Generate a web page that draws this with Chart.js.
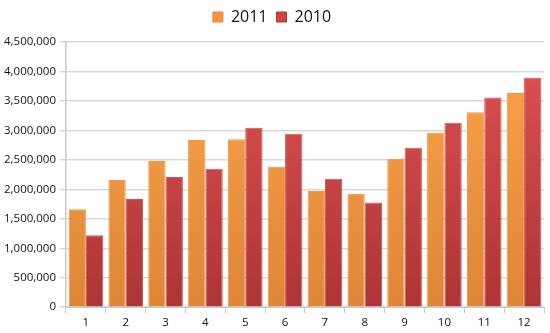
<!DOCTYPE html>
<html>
<head>
<meta charset="utf-8">
<script src="https://cdn.jsdelivr.net/npm/chart.js@4"></script>
<style>
  html, body { margin: 0; padding: 0; background: #fff; }
  #wrap { width: 550px; height: 333px; }
</style>
</head>
<body>
<div id="wrap"><canvas id="myChart" width="550" height="333"></canvas></div>
<script>
const months = ["1", "2", "3", "4", "5", "6", "7", "8", "9", "10", "11", "12"]
const sales2011 = [1660000, 2160000, 2480000, 2835000, 2850000, 2385000, 1970000, 1925000, 2520000, 2960000, 3310000, 3635000]
const sales2010 = [1220000, 1835000, 2210000, 2350000, 3045000, 2945000, 2180000, 1775000, 2705000, 3130000, 3560000, 3895000]

// vertical gradient for the bars, lighter at the top
function barGradient(top, bottom, solid) {
  return function (context) {
    const area = context.chart.chartArea
    if (!area) return solid
    const g = context.chart.ctx.createLinearGradient(0, area.top, 0, area.bottom)
    g.addColorStop(0, top)
    g.addColorStop(1, bottom)
    return g
  }
}

const ctx = document.getElementById("myChart").getContext("2d")
const myChart = new Chart(ctx, {
  type: "bar",
  data: {
    labels: months,
    datasets: [
      {
        label: "2011",
        data: sales2011,
        backgroundColor: barGradient("#fca449", "#de8538", "#f7953f"),
        borderColor: "rgba(240, 140, 50, 0.9)",
        borderWidth: 1,
      },
      {
        label: "2010",
        data: sales2010,
        backgroundColor: barGradient("#e05252", "#ad3535", "#cf4444"),
        borderColor: "rgba(200, 40, 40, 0.8)",
        borderWidth: 1,
      },
    ],
  },
  options: {
    responsive: false,
    animation: false,
    layout: { padding: { left: 0, right: 6, top: 0, bottom: 0 } },
    datasets: {
      bar: { categoryPercentage: 0.87, barPercentage: 1.0 },
    },
    plugins: {
      legend: {
        position: "top",
        labels: {
          boxWidth: 10,
          boxHeight: 10,
          padding: 9,
          color: "#111",
          font: { family: "Open Sans", size: 16 },
          generateLabels: function (chart) {
            const solid = ["#f7953f", "#cf4444"]
            const items = Chart.defaults.plugins.legend.labels.generateLabels(chart)
            items.forEach((it, i) => {
              it.fillStyle = solid[i]
              it.strokeStyle = i === 0 ? "#e8883a" : "#b83434"
              it.lineWidth = 1
            })
            return items
          },
        },
      },
      tooltip: { enabled: false },
    },
    scales: {
      x: {
        grid: {
          display: true,
          drawOnChartArea: false,
          offset: true,
          tickLength: 6,
          color: "#c8c8c8",
        },
        border: { color: "#c8c8c8", width: 1 },
        ticks: {
          color: "#111",
          padding: 3,
          font: { family: "Open Sans", size: 11.5 },
        },
      },
      y: {
        min: 0,
        max: 4500000,
        ticks: {
          stepSize: 500000,
          color: "#111",
          padding: 4,
          font: { family: "Open Sans", size: 11.5 },
          callback: function (v) {
            return v.toLocaleString("en-US")
          },
        },
        grid: {
          color: "#d9d9d9",
          lineWidth: 1.5,
          tickLength: 6,
        },
        border: { color: "#c8c8c8", width: 1.5 },
      },
    },
  },
  plugins: [
    {
      // a bit more room under the legend
      id: "legendGap",
      beforeInit: function (chart) {
        const fit = chart.legend.fit
        chart.legend.fit = function () {
          fit.call(this)
          this.height += 7
        }
      },
    },
  ],
})
</script>
</body>
</html>
